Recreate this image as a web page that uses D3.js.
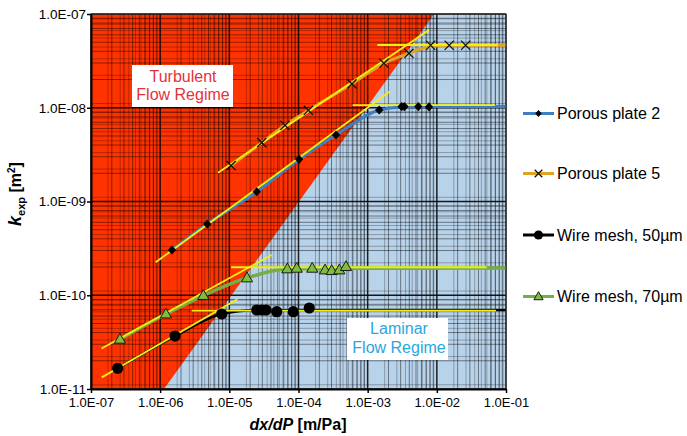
<!DOCTYPE html>
<html><head><meta charset="utf-8">
<script src="https://cdn.jsdelivr.net/npm/d3@7"></script>
<style>body{margin:0;background:#fff;} svg{display:block;font-family:"Liberation Sans",Arial,sans-serif;}</style>
</head><body><svg id="c" width="687" height="436"></svg>
<script>
// ---------- data ----------
const xTicks = [1e-7, 1e-6, 1e-5, 1e-4, 1e-3, 1e-2, 1e-1];
const xTickLabels = ["1.0E-07","1.0E-06","1.0E-05","1.0E-04","1.0E-03","1.0E-02","1.0E-01"];
const yTicks = [1e-11, 1e-10, 1e-9, 1e-8, 1e-7];
const yTickLabels = ["1.0E-11","1.0E-10","1.0E-09","1.0E-08","1.0E-07"];
const seriesNames = ["Porous plate 2","Porous plate 5","Wire mesh, 50µm","Wire mesh, 70µm"];

// regime boundary (dx/dP, k)
const boundaryX = [1.135e-6, 9.1e-3];
const boundaryK = [1e-11, 1e-7];

// measured points
const plate2X = [1.48e-6, 4.8e-6, 2.49e-5, 1.02e-4, 3.48e-4, 1.47e-3, 3.1e-3, 3.4e-3, 5.4e-3, 7.7e-3];
const plate2K = [3.04e-10, 5.75e-10, 1.27e-9, 2.82e-9, 5.12e-9, 9.46e-9, 1.03e-8, 1.03e-8, 1.03e-8, 1.02e-8];
const plate5X = [1.06e-5, 2.94e-5, 6.38e-5, 1.39e-4, 5.93e-4, 1.72e-3, 3.95e-3, 8.15e-3, 1.51e-2, 2.61e-2];
const plate5K = [2.42e-9, 4.24e-9, 6.5e-9, 9.4e-9, 1.8e-8, 2.98e-8, 3.81e-8, 4.64e-8, 4.64e-8, 4.64e-8];
const mesh50X = [2.43e-7, 1.64e-6, 7.76e-6, 2.49e-5, 2.96e-5, 3.39e-5, 4.84e-5, 8.41e-5, 1.43e-4];
const mesh50K = [1.66e-11, 3.67e-11, 6.31e-11, 6.96e-11, 6.96e-11, 6.96e-11, 6.68e-11, 6.68e-11, 7.31e-11];
const mesh70X = [2.62e-7, 1.21e-6, 4.21e-6, 1.8e-5, 6.89e-5, 9.42e-5, 1.58e-4, 2.42e-4, 3.02e-4, 3.89e-4, 4.86e-4];
const mesh70K = [3.39e-11, 6.31e-11, 9.93e-11, 1.53e-10, 1.91e-10, 1.94e-10, 1.94e-10, 1.86e-10, 1.83e-10, 1.86e-10, 2.02e-10];

// model curves
const plate2LineX = [1.48e-6, 4.8e-6, 2.49e-5, 1.02e-4, 3.48e-4, 1.47e-3, 3.1e-3, 1e-2, 1e-1];
const plate2LineK = [3.04e-10, 5.75e-10, 1.27e-9, 2.82e-9, 5.12e-9, 9.46e-9, 1.02e-8, 1.03e-8, 1.03e-8];
const plate5LineX = [1.06e-5, 2.94e-5, 6.38e-5, 1.39e-4, 5.93e-4, 1.72e-3, 3.95e-3, 8.15e-3, 1.51e-2, 1e-1];
const plate5LineK = [2.42e-9, 4.24e-9, 6.5e-9, 9.4e-9, 1.8e-8, 2.98e-8, 3.81e-8, 4.5e-8, 4.64e-8, 4.64e-8];
const mesh50LineX = [2.43e-7, 1.64e-6, 7.76e-6, 2.49e-5, 1e-4, 1e-1];
const mesh50LineK = [1.66e-11, 3.67e-11, 6.31e-11, 6.9e-11, 6.96e-11, 6.96e-11];
const mesh70LineX = [2.62e-7, 1.21e-6, 4.21e-6, 1.8e-5, 6.89e-5, 3e-4, 1e-1];
const mesh70LineK = [3.39e-11, 6.31e-11, 9.93e-11, 1.53e-10, 1.9e-10, 1.93e-10, 1.95e-10];

// trend lines (start x, start k, end x, end k)
const trendX1 = [8.61e-7, 6.07e-4, 6.86e-6, 1.38e-3, 1.43e-7, 2.86e-6, 1.42e-7, 1.06e-5];
const trendK1 = [2.25e-10, 1.064e-8, 2.03e-9, 4.67e-8, 1.33e-11, 6.84e-11, 2.70e-11, 1.99e-10];
const trendX2 = [2.06e-3, 6.93e-2, 7.71e-3, 7.65e-2, 1.31e-5, 7.16e-2, 4.09e-5, 5.26e-2];
const trendK2 = [1.48e-8, 1.064e-8, 6.75e-8, 4.67e-8, 9.08e-11, 6.84e-11, 2.69e-10, 1.99e-10];

// ---------- drawing ----------
const svg = d3.select("#c");
const L = 91, R = 506, T = 14, B = 389;
const x = d3.scaleLog().domain([1e-7, 1e-1]).range([L, R]);
const y = d3.scaleLog().domain([1e-11, 1e-7]).range([B, T]);

svg.append("rect").attr("x", L).attr("y", T).attr("width", R - L).attr("height", B - T).attr("fill", "#b8d2ea");
const red = [[1e-7, 1e-7], [boundaryX[1], boundaryK[1]], [boundaryX[0], boundaryK[0]], [1e-7, 1e-11]];
svg.append("path").attr("d", d3.line().x(d => x(d[0])).y(d => y(d[1]))(red) + "Z").attr("fill", "#ff3300");

// grid
const gx = svg.append("g");
const minorX = [], minorY = [];
for (let e = -7; e < -1; e++) for (let m = 2; m <= 9; m++) minorX.push(m * Math.pow(10, e));
for (let e = -11; e < -7; e++) for (let m = 2; m <= 9; m++) minorY.push(m * Math.pow(10, e));
const offX = 0.055, offY = 0.045;
minorX.concat(xTicks).forEach(v => {
  const px = x(v * Math.pow(10, -offX));
  if (px > L && px < R) gx.append("line").attr("x1", px).attr("x2", px).attr("y1", T).attr("y2", B).attr("stroke", "#000").attr("stroke-opacity", 0.3).attr("stroke-width", 0.9);
});
minorY.concat(yTicks).forEach(v => {
  const py = y(v * Math.pow(10, offY));
  if (py > T && py < B) gx.append("line").attr("y1", py).attr("y2", py).attr("x1", L).attr("x2", R).attr("stroke", "#000").attr("stroke-opacity", 0.3).attr("stroke-width", 0.9);
});
minorX.forEach(v => gx.append("line").attr("x1", x(v)).attr("x2", x(v)).attr("y1", T).attr("y2", B).attr("stroke", "#000").attr("stroke-opacity", 0.45).attr("stroke-width", 1));
minorY.forEach(v => gx.append("line").attr("y1", y(v)).attr("y2", y(v)).attr("x1", L).attr("x2", R).attr("stroke", "#000").attr("stroke-opacity", 0.45).attr("stroke-width", 1));
xTicks.forEach(v => gx.append("line").attr("x1", x(v)).attr("x2", x(v)).attr("y1", T).attr("y2", B).attr("stroke", "#000").attr("stroke-opacity", 0.85).attr("stroke-width", 1.5));
yTicks.forEach(v => gx.append("line").attr("y1", y(v)).attr("y2", y(v)).attr("x1", L).attr("x2", R).attr("stroke", "#000").attr("stroke-opacity", 0.85).attr("stroke-width", 1.5));

// regime labels
function box(x0, y0, w, h, lines, color, cx, bases) {
  svg.append("rect").attr("x", x0).attr("y", y0).attr("width", w).attr("height", h).attr("fill", "#fff");
  lines.forEach((t, i) => svg.append("text").attr("x", cx).attr("y", bases[i]).attr("text-anchor", "middle")
    .attr("font-size", 16).attr("fill", color).text(t));
}
box(132, 65, 101, 42, ["Turbulent", "Flow Regime"], "#e53238", 183, [81.5, 100]);
box(347, 318, 101, 42, ["Laminar", "Flow Regime"], "#2aa6e0", 399, [334, 352.5]);

// series lines
const colors = ["#3c7fc2", "#e2a420", "#000000", "#74ae46"];
const widths = [3, 3, 2.5, 3.5];
const lineGen = d3.line().x(d => x(d[0])).y(d => y(d[1])).curve(d3.curveMonotoneX);
const lines = [[plate2LineX, plate2LineK], [plate5LineX, plate5LineK], [mesh50LineX, mesh50LineK], [mesh70LineX, mesh70LineK]];
lines.forEach((s, i) => {
  svg.append("path").attr("d", lineGen(s[0].map((v, j) => [v, s[1][j]]))).attr("fill", "none")
    .attr("stroke", colors[i]).attr("stroke-width", widths[i]).attr("stroke-linejoin", "round");
});

// trend lines
trendX1.forEach((v, i) => {
  svg.append("line").attr("x1", x(v)).attr("y1", y(trendK1[i])).attr("x2", x(trendX2[i])).attr("y2", y(trendK2[i]))
    .attr("stroke", "#f4ef10").attr("stroke-width", 1.8);
});

// markers
function marker(g, type, cx, cy, s) {
  if (type === 0) g.append("path").attr("d", `M${cx},${cy - s}L${cx + s * 0.9},${cy}L${cx},${cy + s}L${cx - s * 0.9},${cy}Z`).attr("fill", "#000");
  else if (type === 1) g.append("path").attr("d", `M${cx - s},${cy - s}L${cx + s},${cy + s}M${cx - s},${cy + s}L${cx + s},${cy - s}`).attr("stroke", "#111").attr("stroke-width", 1.3).attr("fill", "none");
  else if (type === 2) g.append("circle").attr("cx", cx).attr("cy", cy).attr("r", s).attr("fill", "#000");
  else g.append("path").attr("d", `M${cx},${cy - s * 1.05}L${cx + s},${cy + s * 0.7}L${cx - s},${cy + s * 0.7}Z`).attr("fill", "#7cbf3c").attr("stroke", "#1a1a1a").attr("stroke-width", 1);
}
const mg = svg.append("g");
const pts = [[plate2X, plate2K], [plate5X, plate5K], [mesh50X, mesh50K], [mesh70X, mesh70K]];
const msize = [4.6, 4.6, 5.6, 5.6];
pts.forEach((s, i) => s[0].forEach((v, j) => marker(mg, i, x(v), y(s[1][j]), msize[i])));

// border & axes
svg.append("rect").attr("x", L).attr("y", T).attr("width", R - L).attr("height", B - T).attr("fill", "none").attr("stroke", "#333").attr("stroke-width", 1);
const xa = svg.append("g").attr("transform", `translate(0,${B})`)
  .call(d3.axisBottom(x).tickValues(xTicks).tickFormat((d, i) => xTickLabels[i]).tickSize(4).tickPadding(5).tickSizeOuter(0));
const ya = svg.append("g").attr("transform", `translate(${L},0)`)
  .call(d3.axisLeft(y).tickValues(yTicks).tickFormat((d, i) => yTickLabels[i]).tickSize(4).tickPadding(1).tickSizeOuter(0));
[xa, ya].forEach(a => {
  a.select(".domain").attr("stroke", "#000").attr("stroke-width", 2);
  a.selectAll(".tick line").attr("stroke", "#000").attr("stroke-width", 1.5);
  a.selectAll("text").attr("font-family", '"Liberation Sans",Arial,sans-serif').attr("fill", "#000");
});
xa.selectAll("text").attr("font-size", 13);
ya.selectAll("text").attr("font-size", 13.5);

// axis titles
const xt = svg.append("text").attr("x", 298).attr("y", 430).attr("text-anchor", "middle").attr("font-size", 16).attr("font-weight", "bold");
xt.append("tspan").attr("font-style", "italic").text("dx/dP");
xt.append("tspan").text(" [m/Pa]");
const yt = svg.append("text").attr("transform", "translate(21,194) rotate(-90)").attr("text-anchor", "middle").attr("font-size", 16).attr("font-weight", "bold");
yt.append("tspan").attr("font-style", "italic").attr("font-size", 18).text("k");
yt.append("tspan").attr("font-size", 11).attr("dy", 4).text("exp");
yt.append("tspan").attr("dy", -4).text(" [m");
yt.append("tspan").attr("font-size", 10).attr("dy", -6).text("2");
yt.append("tspan").attr("dy", 6).text("]");

// legend
const legY = [113.5, 173.5, 235, 296.5];
const lgMs = [3.6, 3.8, 4.6, 4.6];
seriesNames.forEach((n, i) => {
  const g = svg.append("g");
  g.append("line").attr("x1", 523).attr("x2", 554).attr("y1", legY[i]).attr("y2", legY[i]).attr("stroke", colors[i]).attr("stroke-width", 3);
  marker(g, i, 538.5, legY[i], lgMs[i]);
  g.append("text").attr("x", 557).attr("y", legY[i]).attr("dy", "0.36em").attr("font-size", 16).attr("fill", "#000").text(n);
});
</script></body></html>
